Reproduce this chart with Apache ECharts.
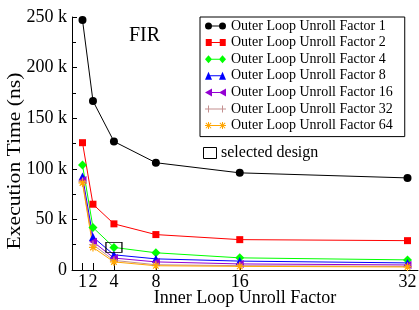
<!DOCTYPE html>
<html>
<head>
<meta charset="utf-8">
<script src="https://cdn.jsdelivr.net/npm/echarts@6/dist/echarts.min.js"></script>
<style>html,body{margin:0;padding:0;background:#fff}#c{width:419px;height:310px}</style>
</head>
<body>
<div id="c"></div>
<script>
const xValues = [1, 2, 4, 8, 16, 32];
const xTicks = [1, 2, 4, 8, 16, 32];
const seriesNames = [
  'Outer Loop Unroll Factor 1', 'Outer Loop Unroll Factor 2', 'Outer Loop Unroll Factor 4',
  'Outer Loop Unroll Factor 8', 'Outer Loop Unroll Factor 16', 'Outer Loop Unroll Factor 32',
  'Outer Loop Unroll Factor 64'
];
const outer1 = [247000, 167000, 127000, 106000, 96000, 91000];
const outer2 = [125800, 65000, 45600, 35000, 30000, 29000];
const outer4 = [103800, 42000, 22300, 17000, 12000, 10000];
const outer8 = [92500, 32500, 15000, 11000, 8800, 7000];
const outer16 = [89000, 28000, 11800, 8000, 6000, 5000];
const outer32 = [87500, 25000, 9500, 5200, 4300, 3600];
const outer64 = [86000, 22300, 8000, 4200, 3600, 3000];
const selectedPoint = [4, 22300];

const FONT = "'Liberation Serif', 'Times New Roman', serif";
const chart = echarts.init(document.getElementById('c'), null, {renderer: 'canvas'});

function mk(name, data, color, symbol, size, extra) {
  return Object.assign({
    name: name, type: 'line', data: xValues.map((x, i) => [x, data[i]]),
    symbol: symbol, symbolSize: size, showSymbol: true,
    lineStyle: {color: color, width: 1},
    itemStyle: {color: color},
    emphasis: {disabled: true}, animation: false, z: 3
  }, extra || {});
}

const plusPath = 'path://M0,5L10,5M5,0L5,10';
const starPath = 'path://M0,5L10,5M5,0L5,10M1.5,1.5L8.5,8.5M1.5,8.5L8.5,1.5';

// legend icons: line with a marker at both ends
const LINE = 'M3.5,3.5h14v1h-14z';
const legendIcons = [
  'path://M0,4a3.5,3.5 0 1,1 7,0a3.5,3.5 0 1,1 -7,0M14,4a3.5,3.5 0 1,1 7,0a3.5,3.5 0 1,1 -7,0M0,0h0.01v0.01h-0.01zM0,7.99h0.01v0.01h-0.01z' + LINE,
  'path://M0.5,0.5h6v7h-6zM14.5,0.5h6v7h-6zM0,0h0.01v0.01h-0.01zM0,7.99h0.01v0.01h-0.01z' + LINE,
  'path://M0,4L3.5,0L7,4L3.5,8zM14,4L17.5,0L21,4L17.5,8z' + LINE,
  'path://M0,8L3.5,0L7,8zM14,8L17.5,0L21,8z' + LINE,
  'path://M0,4L7,0L7,8zM14,4L21,0L21,8z' + LINE,
  'path://M3,0.5h1v7h-1zM17,0.5h1v7h-1zM0,3.5h21v1h-21zM0,0h0.01v0.01h-0.01zM0,7.99h0.01v0.01h-0.01z',
  'path://M3,0.5h1v7h-1zM17,0.5h1v7h-1zM0,3.5h21v1h-21zM0.5,1.7L1.2,1L6.5,6.3L5.8,7zM0.5,6.3L5.8,1L6.5,1.7L1.2,7zM14.5,1.7L15.2,1L20.5,6.3L19.8,7zM14.5,6.3L19.8,1L20.5,1.7L15.2,7zM0,0h0.01v0.01h-0.01zM0,7.99h0.01v0.01h-0.01z'
];

const series = [
  mk(seriesNames[0], outer1, '#000000', 'circle', 8),
  mk(seriesNames[1], outer2, '#ff0000', 'rect', 7),
  mk(seriesNames[2], outer4, '#00ff00', 'diamond', 9, {
    markPoint: {
      symbol: 'rect', symbolSize: [16, 10], silent: true, animation: false,
      itemStyle: {color: 'rgba(0,0,0,0)', borderColor: '#000', borderWidth: 1},
      label: {show: false},
      data: [{coord: selectedPoint}]
    }
  }),
  mk(seriesNames[3], outer8, '#0000ff', 'triangle', 8),
  mk(seriesNames[4], outer16, '#9400d3', 'triangle', 8, {symbolRotate: 90}),
  mk(seriesNames[5], outer32, '#c49090', plusPath, 8, {itemStyle: {color: '#c49090', borderColor: '#c49090', borderWidth: 1}}),
  mk(seriesNames[6], outer64, '#ffa500', starPath, 8, {itemStyle: {color: '#ffa500', borderColor: '#ffa500', borderWidth: 1.2}})
];

chart.setOption({
  animation: false,
  backgroundColor: '#fff',
  textStyle: {fontFamily: FONT, color: '#000'},
  title: {text: 'FIR', left: 124, top: 21, textStyle: {fontFamily: FONT, fontSize: 20, fontWeight: 'normal', color: '#000'}},
  grid: {left: 72, right: 1, top: 17, bottom: 40, containLabel: false, outerBoundsMode: 'none'},
  legend: {
    orient: 'vertical', left: 200, top: 17,
    data: seriesNames.map((n, i) => ({name: n, icon: legendIcons[i], itemStyle: {borderWidth: 0}})),
    itemWidth: 21, itemHeight: 8, itemGap: 2.6,
    padding: [2, 12, 4, 5],
    borderColor: '#000', borderWidth: 1, borderRadius: 0,
    textStyle: {fontFamily: FONT, fontSize: 14, color: '#000', lineHeight: 14},
    selectedMode: false
  },
  xAxis: {
    type: 'value', min: 0, max: 33,
    name: 'Inner Loop Unroll Factor', nameLocation: 'middle', nameGap: 19, nameMoveOverlap: false,
    nameTextStyle: {fontFamily: FONT, fontSize: 18, color: '#000'},
    axisLine: {show: true, lineStyle: {color: '#000', width: 1}},
    axisTick: {show: true, inside: true, length: 7, customValues: xTicks, lineStyle: {color: '#000'}},
    axisLabel: {show: true, customValues: xTicks, margin: 3, fontFamily: FONT, fontSize: 18, color: '#000'},
    splitLine: {show: false}
  },
  yAxis: {
    type: 'value', min: 0, max: 250000, interval: 50000,
    axisLine: {show: true, lineStyle: {color: '#000', width: 1}},
    axisTick: {show: true, inside: true, length: 5, lineStyle: {color: '#000'}},
    minorTick: {show: true, splitNumber: 2, length: 4, lineStyle: {color: '#000'}},
    axisLabel: {margin: 5, fontFamily: FONT, fontSize: 18, color: '#000',
      formatter: v => v === 0 ? '0' : (v / 1000) + ' k'},
    splitLine: {show: false}
  },
  graphic: [
    {type: 'text', x: 15, y: 161, rotation: Math.PI / 2, scaleX: 1.2,
      style: {text: 'Execution Time (ns)', font: "18px 'Liberation Serif', serif", fill: '#000', align: 'center', verticalAlign: 'middle'}},
    {type: 'rect', shape: {x: 203.5, y: 147.5, width: 13, height: 11}, style: {fill: 'none', stroke: '#000', lineWidth: 1}},
    {type: 'text', x: 221, y: 153, style: {text: 'selected design', font: "16px 'Liberation Serif', serif", fill: '#000', verticalAlign: 'middle'}}
  ],
  series: series
});
</script>
</body>
</html>
